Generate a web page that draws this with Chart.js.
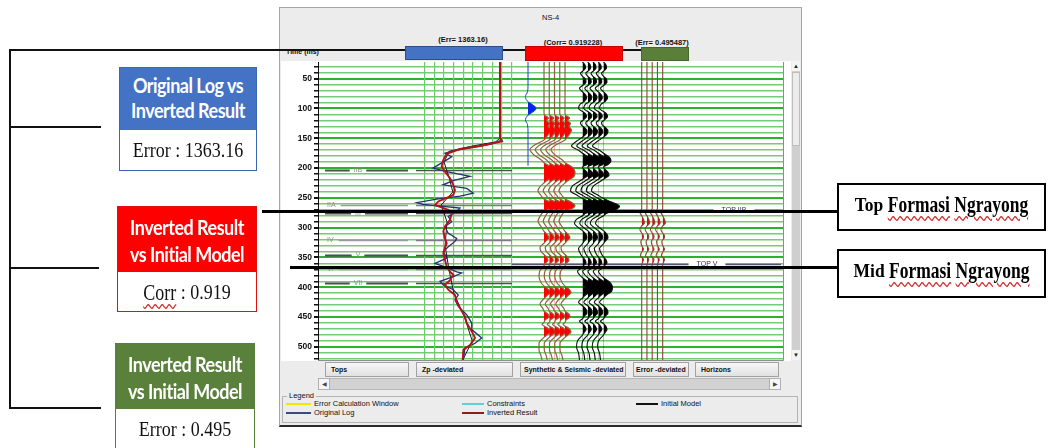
<!DOCTYPE html>
<html>
<head>
<meta charset="utf-8">
<title>NS-4 inversion QC</title>
<script src="https://cdn.jsdelivr.net/npm/chart.js@4.4.1/dist/chart.umd.min.js"></script>
<style>
  html, body { margin:0; padding:0; width:1048px; height:448px; overflow:hidden; background:#fff; }
  body { position:relative; font-family:"Liberation Sans", Arial, sans-serif; }
  .a { position:absolute; box-sizing:border-box; }
  #win { left:279px; top:7px; width:523px; height:420px; background:#ececec; border:1px solid #a6a6a6; border-bottom:2px solid #2b2b2b; }
  #panel { left:281px; top:61px; width:510px; height:300px; background:#fff; }
  .ui { font-size:7.5px; color:#111; white-space:nowrap; line-height:9px; }
  .hdr { font-weight:bold; text-align:center; width:110px; }
  .btn { top:362px; height:15px; border:1px solid #a2a2a2; background:linear-gradient(#f7f7f7,#e1e1e1); font-weight:bold; font-size:7px; line-height:13px; padding-left:5px; white-space:nowrap; color:#111; }
  .lg { height:2px; }
  #chart { position:absolute; left:0; top:0; z-index:1; }
  .ov { z-index:2; }
  .k { background:#111; }
  .lbox { border:1.5px solid; background:#fff; }
  .lhead { color:#fff; font-family:Lato, "Open Sans", sans-serif; font-weight:700; font-size:18px; letter-spacing:-0.5px; text-align:center; box-sizing:border-box; }
  .lhead span, .lbody span, .rbox span { display:inline-block; transform:scaleY(1.13); }
  .lbody { font-family:"Liberation Serif", "Times New Roman", serif; font-size:18px; text-align:center; line-height:40px; color:#111; }
  .rbox { border:2px solid #000; background:#fff; font-family:"Liberation Serif", "Times New Roman", serif; font-weight:bold; font-size:17.5px; text-align:center; line-height:38px; color:#000; white-space:nowrap; }
  .wavy { text-decoration:underline wavy #d52a2a; text-decoration-thickness:1px; text-underline-offset:3px; }
</style>
</head>
<body>

<!-- software window chrome -->
<div class="a" id="win"></div>
<div class="a" id="panel"></div>
<div class="a ui" style="left:542px;top:13px;">NS-4</div>
<div class="a ui" style="left:286px;top:47px;font-weight:bold;font-size:7px;">Time (ms)</div>
<div class="a ui hdr" style="left:408px;top:35px;">(Err= 1363.16)</div>
<div class="a ui hdr" style="left:518px;top:38px;">(Corr= 0.919228)</div>
<div class="a ui hdr" style="left:607px;top:38px;">(Err= 0.495487)</div>

<div class="a btn" style="left:325px;width:84px;">Tops</div>
<div class="a btn" style="left:416px;width:97px;">Zp -deviated</div>
<div class="a btn" style="left:520px;width:106px;padding-left:3px;">Synthetic &amp; Seismic -deviated</div>
<div class="a btn" style="left:633px;width:56px;padding-left:2px;">Error -deviated</div>
<div class="a btn" style="left:695px;width:84px;">Horizons</div>

<!-- horizontal scrollbar -->
<div class="a" style="left:318px;top:378px;width:463px;height:12px;background:#d2d2d2;border:1px solid #b8b8b8;"></div>
<div class="a" style="left:318px;top:378px;width:12px;height:12px;background:#f6f6f6;border:1px solid #b0b0b0;font-size:6px;line-height:10px;text-align:center;color:#444;">&#9664;</div>
<div class="a" style="left:769px;top:378px;width:12px;height:12px;background:#f6f6f6;border:1px solid #b0b0b0;font-size:6px;line-height:10px;text-align:center;color:#444;">&#9654;</div>

<!-- vertical scrollbar -->
<div class="a" style="left:792px;top:62px;width:8px;height:298px;background:#cfcfcf;"></div>
<div class="a" style="left:792px;top:72px;width:8px;height:74px;background:#ececec;border:1px solid #bdbdbd;"></div>
<div class="a" style="left:792px;top:61px;width:8px;height:10px;font-size:6px;line-height:10px;text-align:center;color:#222;background:#f4f4f4;">&#9650;</div>
<div class="a" style="left:792px;top:350px;width:8px;height:10px;font-size:6px;line-height:10px;text-align:center;color:#222;background:#f4f4f4;">&#9660;</div>

<!-- legend group -->
<div class="a" style="left:282px;top:396px;width:516px;height:27px;border:1px solid #b4b4b4;"></div>
<div class="a ui" style="left:287px;top:391px;background:#ececec;padding:0 2px;">Legend</div>
<div class="a lg" style="left:286px;top:403px;width:25px;background:#f3e600;"></div>
<div class="a ui" style="left:314px;top:399px;">Error Calculation Window</div>
<div class="a lg" style="left:286px;top:412px;width:25px;background:#3b4a86;"></div>
<div class="a ui" style="left:314px;top:408px;">Original Log</div>
<div class="a lg" style="left:462px;top:403px;width:22px;background:#5ed2d2;"></div>
<div class="a ui" style="left:487px;top:399px;">Constraints</div>
<div class="a lg" style="left:462px;top:412px;width:22px;background:#8a1f1f;"></div>
<div class="a ui" style="left:487px;top:408px;">Inverted Result</div>
<div class="a lg" style="left:636px;top:403px;width:22px;background:#111;"></div>
<div class="a ui" style="left:661px;top:399px;">Initial Model</div>

<canvas id="chart" width="1048" height="448"></canvas>

<!-- bracket and connector lines -->
<div class="a ov k" style="left:9px;top:49px;width:2px;height:360px;"></div>
<div class="a ov k" style="left:9px;top:49px;width:632px;height:2px;"></div>
<div class="a ov k" style="left:9px;top:126px;width:92px;height:2px;"></div>
<div class="a ov k" style="left:9px;top:267px;width:90px;height:2px;"></div>
<div class="a ov k" style="left:9px;top:407px;width:92px;height:2px;"></div>

<!-- coloured track header markers -->
<div class="a ov" style="left:405px;top:46px;width:98px;height:14px;background:#4472c4;border:1px solid #2c4f8c;"></div>
<div class="a ov" style="left:525px;top:46px;width:98px;height:15px;background:#ff0000;border:1px solid #c40000;"></div>
<div class="a ov" style="left:641px;top:47px;width:48px;height:14px;background:#5a7f3b;border:1px solid #46672c;"></div>

<!-- statistic boxes -->
<div class="a ov lbox" style="left:119px;top:67px;width:138px;height:104px;border-color:#3c66b2;">
  <div class="lhead" style="height:62px;background:#4472c4;padding-top:5px;line-height:25px;"><span>Original Log vs</span><br><span>Inverted Result</span></div>
  <div class="lbody"><span>Error : 1363.16</span></div>
</div>
<div class="a ov lbox" style="left:117px;top:206px;width:140px;height:106px;border-color:#e01010;">
  <div class="lhead" style="height:65px;background:#ff0000;padding-top:7px;line-height:26.5px;"><span>Inverted Result</span><br><span>vs Initial Model</span></div>
  <div class="lbody"><span><span class="wavy">Corr</span> : 0.919</span></div>
</div>
<div class="a ov lbox" style="left:115px;top:343px;width:140px;height:112px;border-color:#58803a;">
  <div class="lhead" style="height:65px;background:#5a813b;padding-top:7px;line-height:26.5px;"><span>Inverted Result</span><br><span>vs Initial Model</span></div>
  <div class="lbody"><span>Error : 0.495</span></div>
</div>

<!-- formation boxes -->
<div class="a ov rbox" id="fm0" style="left:837px;top:183px;width:209px;height:48px;"></div>
<div class="a ov rbox" id="fm1" style="left:837px;top:249px;width:209px;height:49px;"></div>

<script>
// ---------- data ----------
// two-way time tick labels (ms)
const timeTickLabels = [50, 100, 150, 200, 250, 300, 350, 400, 450, 500];

// P-impedance, inverted result
const zpInvTime  = [22,150,155,163,168,176,186,197,206,217,228,237,245,250,256,262,265,270,276,287,298,306,318,326,334,343,354,365,374,379,388,396,404,413,424,435,449,460,474,485,497,505,522];
const zpInvValue = [12760,12760,12970,10700,8640,7270,6920,6750,7090,7610,7950,8120,7950,7270,6400,6060,6580,7430,7780,7610,7090,6920,7090,7270,7090,6920,7090,7270,7610,7950,7610,7090,7430,8120,8300,8640,9150,9330,9850,10190,9670,8980,8920];

// P-impedance, original well log
const zpLogTime  = [148,153,160,166,171,175,181,185,193,200,206,214,221,228,234,242,247,252,258,261,267,273,281,290,298,309,318,323,332,340,351,360,365,374,376,382,390,396,404,413,421,432,446,460,471,485,494,502,522];
const zpLogValue = [12760,12970,11730,9670,7920,7090,7780,7400,6580,5860,7270,9670,7920,6890,9330,10010,8640,6240,4180,4820,8640,8300,7430,7780,7090,7400,8300,8120,7430,6920,7270,6060,6920,8300,8810,7950,6580,6920,7950,8460,8120,8460,9330,9850,9850,10880,10190,9150,8980];

// P-impedance, initial (low-frequency) model
const zpModelTime  = [22,150,156,164,172,190,215,240,262,290,330,370,410,450,490,522];
const zpModelValue = [12760,12760,12300,9600,7500,7000,7500,7900,6700,7300,7100,7500,8000,9100,9900,8920];

// extracted wavelet (normalised amplitude)
const waveTime = [22,62,72,80,87,91,96,100,104,109,113,119,127,140,196];
const waveAmp  = [0,0,-0.05,-0.25,-0.1,0.2,0.65,0.8,0.65,0.2,-0.1,-0.25,-0.05,0,0];

// synthetic trace (normalised amplitude)
const synTime = [22,108,112,116,120,125,130,136,142,149,153,160,169,178,186,191,198,206,214,221,225,231,238,246,252,257,263,268,273,281,289,298,306,311,317,322,326,333,340,345,350,355,360,364,372,382,392,398,403,409,414,419,428,436,440,445,450,455,459,462,465,469,475,480,484,494,505,515,522];
const synAmp  = [0,0,0.1,0.45,0.25,0.55,0.4,0.65,0.5,0.2,0,-0.8,-1.4,-1.0,-0.3,0,0.7,1.0,0.9,0.3,0,-0.4,-0.6,-0.3,0,0.6,1.0,0.7,0,-0.4,-0.6,-0.3,0,0.3,0.5,0.2,0,-0.4,-0.3,0,0.3,0.4,0.1,0,-0.4,-0.5,-0.3,0,0.4,0.6,0.3,0,-0.4,-0.1,0,0.4,0.5,0.1,0,-0.2,0,0.4,0.6,0.3,0,-0.5,-0.5,-0.3,-0.2];

// seismic trace at the well (normalised amplitude)
const seisTime = [22,27,32,37,41,46,51,56,61,66,72,78,83,89,93,100,105,110,114,119,124,128,132,138,144,148,155,163,170,175,182,188,194,198,202,207,212,217,222,230,238,246,251,257,264,270,276,280,286,293,300,305,311,317,323,327,335,344,349,354,359,364,367,373,379,384,391,399,407,413,418,425,431,437,443,449,453,457,461,466,471,476,480,490,500,510,522];
const seisAmp  = [0,0.25,0.3,0.05,-0.2,0,0.3,0.35,0.05,-0.3,0,0.35,0.4,0.1,-0.25,-0.4,0,0.35,0.4,0.1,-0.2,-0.1,0.2,0.45,0.3,0,-0.6,-1.1,-0.4,0,0.6,0.75,0.45,0,0.15,0.45,0.55,0.15,-0.3,-1.0,-1.2,-0.5,0,0.8,1.6,1.2,0.3,0,-0.6,-0.8,-0.4,0,0.35,0.45,0.15,0,-0.4,-0.2,0,0.25,0.35,0.1,0,-0.5,-0.3,0,0.6,0.9,0.8,0.3,0,-0.4,0,0.35,0.45,0.15,0,-0.3,0,0.25,0.35,0.15,0,-0.5,-0.6,-0.4,-0.3];

// synthetic minus seismic inside the error window
const errTime = [22,268,274,280,286,292,297,303,309,314,318,323,330,336,341,347,353,358,362,522];
const errAmp  = [0,0,-0.2,0,0.2,0.3,0,-0.2,0,0.2,0.15,-0.1,0,0.2,0,-0.15,0.2,0.1,0,0];

// well tops (ms)
const topNames = ['IIB', 'IIA', 'III', 'IV', 'V', 'VI', 'VII'];
const topTimes = [204, 262, 275, 320, 346, 370, 393];

// picked seismic horizons (ms)
const horizonNames = ['TOP IIB', 'TOP V'];
const horizonTimes = [271, 361];

// interpreted formation markers (ms)
const formationNames = ['Top Formasi Ngrayong', 'Mid Formasi Ngrayong'];
const formationTimes = [272, 366];

// ---------- layout (page columns) ----------
const AREA = { left: 318, right: 783, top: 62, bottom: 360 };
const TIME_RANGE = { min: 22, max: 522, minorStep: 10, majorStep: 50 };
const TOPS_TRACK = { lo: 325, hi: 408, centre: 358, left: 327 };
const ZP_TRACK = { lo: 4000, hi: 14000, step: 1000, major: [4000, 9000, 14000], pxLo: 415, pxHi: 512 };
const HZ_TRACK = { lo: 512, hi: 781, labelCentre: [734, 707] };
const WAVELET_BASE = 528;
const SYN_BASE = 544, SEIS_BASE = 582.5, ERR_BASE = 641.7, TRACE_GAP = 5.25, TRACE_COUNT = 5;
const GAIN = 10;          // display gain: columns per unit amplitude
const ERR_GAIN = 9;
const FORMATION_LINE = { starts: [262, 290], end: 837 };

// Zp scale limits so that the Zp range fills its own track
const zpPerCol = (ZP_TRACK.hi - ZP_TRACK.lo) / (ZP_TRACK.pxHi - ZP_TRACK.pxLo);
const zpMin = ZP_TRACK.lo - (ZP_TRACK.pxLo - AREA.left) * zpPerCol;
const zpMax = ZP_TRACK.hi + (AREA.right - ZP_TRACK.pxHi) * zpPerCol;

// formation box captions
formationNames.forEach((n, i) => {
  const words = n.split(' ');
  document.getElementById('fm' + i).innerHTML =
    '<span>' + words[0] + ' ' + words.slice(1).map(w => '<span class="wavy">' + w + '</span>').join(' ') + '</span>';
});

// ---------- datasets ----------
const series = (times, values) => times.map((t, i) => ({ x: values[i], y: t }));
const wiggle = (times, amps, base, gain) => times.map((t, i) => ({ x: base + amps[i] * gain, y: t }));

const datasets = [];
datasets.push({ label: 'Initial Model', xAxisID: 'zp', yAxisID: 'y', data: series(zpModelTime, zpModelValue), borderColor: '#1a1a1a', borderWidth: 1 });
datasets.push({ label: 'Original Log', xAxisID: 'zp', yAxisID: 'y', data: series(zpLogTime, zpLogValue), borderColor: '#27306e', borderWidth: 1.3 });
datasets.push({ label: 'Inverted Result', xAxisID: 'zp', yAxisID: 'y', data: series(zpInvTime, zpInvValue), borderColor: '#b5121b', borderWidth: 1.9 });

datasets.push({ label: 'Wavelet', xAxisID: 'panel', yAxisID: 'y', data: wiggle(waveTime, waveAmp, WAVELET_BASE, GAIN),
  borderColor: '#1d3fcf', borderWidth: 1, cubicInterpolationMode: 'monotone', lobe: { base: WAVELET_BASE, color: '#0a24ee' } });

for (let k = 0; k < TRACE_COUNT; k++) {
  const b = SYN_BASE + k * TRACE_GAP;
  datasets.push({ label: 'Synthetic', xAxisID: 'panel', yAxisID: 'y', data: wiggle(synTime, synAmp, b, GAIN),
    borderColor: '#93603f', borderWidth: 1.2, cubicInterpolationMode: 'monotone', lobe: { base: b, color: '#ff0000' } });
}
for (let k = 0; k < TRACE_COUNT; k++) {
  const b = SEIS_BASE + k * TRACE_GAP;
  datasets.push({ label: 'Seismic', xAxisID: 'panel', yAxisID: 'y', data: wiggle(seisTime, seisAmp, b, GAIN),
    borderColor: '#0d0d0d', borderWidth: 1.1, cubicInterpolationMode: 'monotone', lobe: { base: b, color: '#000000' } });
}
for (let k = 0; k < TRACE_COUNT; k++) {
  const b = ERR_BASE + k * TRACE_GAP;
  datasets.push({ label: 'Error', xAxisID: 'panel', yAxisID: 'y', data: wiggle(errTime, errAmp, b, ERR_GAIN),
    borderColor: '#8d4533', borderWidth: 1.1, cubicInterpolationMode: 'monotone', lobe: { base: b, color: '#d01010' } });
}
// later datasets are painted over earlier ones
datasets.forEach((d, i) => { d.order = -i; });

// ---------- plugins ----------
// fills the positive half of each wiggle trace, following the drawn curve
const lobeFill = {
  id: 'lobeFill',
  beforeDatasetDraw(chart, args) {
    const ds = chart.data.datasets[args.index];
    if (!ds.lobe) return;
    const line = args.meta.dataset;
    const pts = line.points;
    if (!pts || !pts.length) return;
    const ctx = chart.ctx, area = chart.chartArea;
    const bx = chart.scales.panel.getPixelForValue(ds.lobe.base);
    line.updateControlPoints(area, 'y');
    ctx.save();
    ctx.beginPath();
    ctx.rect(bx, area.top, area.right - bx, area.bottom - area.top);
    ctx.clip();
    ctx.beginPath();
    line.path(ctx);
    ctx.lineTo(bx, pts[pts.length - 1].y);
    ctx.lineTo(bx, pts[0].y);
    ctx.closePath();
    ctx.fillStyle = ds.lobe.color;
    ctx.fill();
    ctx.restore();
  }
};

// well tops, seismic horizons and chart frame
const markers = {
  id: 'markers',
  beforeDatasetsDraw(chart) {
    const ctx = chart.ctx, ys = chart.scales.y, px = chart.scales.panel;
    ctx.save();
    ctx.font = '7px "Liberation Sans", Arial, sans-serif';
    ctx.textBaseline = 'middle';
    topNames.forEach((name, i) => {
      const y = Math.round(ys.getPixelForValue(topTimes[i])) + 0.5;
      const strong = i % 2 === 0;
      const w = ctx.measureText(name).width;
      ctx.strokeStyle = strong ? '#4e4e4e' : '#9b9b9b';
      ctx.lineWidth = strong ? 2 : 1.5;
      ctx.beginPath();
      if (strong) {
        const c = px.getPixelForValue(TOPS_TRACK.centre);
        ctx.moveTo(px.getPixelForValue(TOPS_TRACK.lo), y); ctx.lineTo(c - w / 2 - 4, y);
        ctx.moveTo(c + w / 2 + 4, y); ctx.lineTo(px.getPixelForValue(TOPS_TRACK.hi), y);
      } else {
        const l = px.getPixelForValue(TOPS_TRACK.left);
        ctx.moveTo(l + w + 5, y); ctx.lineTo(px.getPixelForValue(TOPS_TRACK.hi), y);
      }
      ctx.stroke();
      ctx.fillStyle = '#8c8c8c';
      ctx.textAlign = strong ? 'center' : 'left';
      ctx.fillText(name, strong ? px.getPixelForValue(TOPS_TRACK.centre) : px.getPixelForValue(TOPS_TRACK.left), y);
      // continuation across the impedance track
      ctx.strokeStyle = strong ? '#505050' : '#7d7d7d';
      ctx.lineWidth = 1.5;
      ctx.beginPath();
      ctx.moveTo(px.getPixelForValue(ZP_TRACK.pxLo + 1), y);
      ctx.lineTo(px.getPixelForValue(ZP_TRACK.pxHi), y);
      ctx.stroke();
    });
    horizonNames.forEach((name, i) => {
      const y = Math.round(ys.getPixelForValue(horizonTimes[i])) + 0.5;
      ctx.strokeStyle = '#55586a';
      ctx.lineWidth = 1.5;
      ctx.beginPath();
      ctx.moveTo(px.getPixelForValue(HZ_TRACK.lo), y);
      ctx.lineTo(px.getPixelForValue(HZ_TRACK.hi), y);
      ctx.stroke();
      const c = px.getPixelForValue(HZ_TRACK.labelCentre[i]);
      const w = ctx.measureText(name).width;
      ctx.fillStyle = '#ffffff';
      ctx.fillRect(c - w / 2 - 8, y - 4, w + 16, 8);
      ctx.fillStyle = '#2b2f7a';
      ctx.textAlign = 'center';
      ctx.fillText(name, c, y);
    });
    ctx.restore();
  },
  afterDatasetsDraw(chart) {
    const ctx = chart.ctx, a = chart.chartArea;
    ctx.save();
    ctx.strokeStyle = '#8e8e8e';
    ctx.lineWidth = 1;
    ctx.beginPath();
    ctx.moveTo(a.left, Math.round(a.bottom) + 0.5);
    ctx.lineTo(Math.round(a.right) + 0.5, Math.round(a.bottom) + 0.5);
    ctx.lineTo(Math.round(a.right) + 0.5, a.top);
    ctx.stroke();
    ctx.restore();
  },
  afterDraw(chart) {
    const ctx = chart.ctx, ys = chart.scales.y, px = chart.scales.panel;
    ctx.save();
    ctx.strokeStyle = '#000';
    ctx.lineWidth = 3;
    formationTimes.forEach((t, i) => {
      const y = Math.round(ys.getPixelForValue(t)) + 0.5;
      ctx.beginPath();
      ctx.moveTo(px.getPixelForValue(FORMATION_LINE.starts[i]), y);
      ctx.lineTo(px.getPixelForValue(FORMATION_LINE.end), y);
      ctx.stroke();
    });
    ctx.restore();
  }
};

// ---------- chart ----------
const isMajorTime = c => c.tick && c.tick.value % TIME_RANGE.majorStep === 0;

new Chart(document.getElementById('chart'), {
  type: 'line',
  data: { datasets },
  options: {
    indexAxis: 'y',
    responsive: false,
    animation: false,
    devicePixelRatio: 1,
    events: [],
    layout: { padding: { left: AREA.left - 38, top: AREA.top, right: 1048 - AREA.right, bottom: 448 - AREA.bottom } },
    elements: { point: { radius: 0 }, line: { fill: false, tension: 0 } },
    plugins: { legend: { display: false }, tooltip: { enabled: false } },
    scales: {
      y: {
        type: 'linear', position: 'left', reverse: true, min: TIME_RANGE.min, max: TIME_RANGE.max,
        afterFit: s => { s.width = 38; },
        // minor ruler every 10 ms, labelled every 50 ms
        afterBuildTicks: s => {
          const ticks = [];
          const first = Math.ceil(TIME_RANGE.min / TIME_RANGE.minorStep) * TIME_RANGE.minorStep;
          for (let v = first; v <= TIME_RANGE.max; v += TIME_RANGE.minorStep) ticks.push({ value: v });
          s.ticks = ticks;
        },
        ticks: {
          autoSkip: false, padding: 2, color: '#111',
          font: { family: '"Liberation Sans", Arial, sans-serif', size: 8.5, weight: 'bold' },
          callback: v => timeTickLabels.includes(v) ? String(v) : ''
        },
        grid: {
          color: c => isMajorTime(c) ? '#2cb22c' : '#74cc74',
          lineWidth: c => isMajorTime(c) ? 2 : 1.5,
          tickLength: 4, tickColor: '#111'
        },
        border: { display: true, color: '#111', width: 1 }
      },
      zp: {
        type: 'linear', axis: 'x', position: 'bottom', min: zpMin, max: zpMax,
        afterFit: s => { s.height = 0; },
        afterBuildTicks: s => { s.ticks = s.ticks.filter(t => t.value >= ZP_TRACK.lo - 1 && t.value <= ZP_TRACK.hi + 1); },
        ticks: { display: false, stepSize: ZP_TRACK.step, includeBounds: false },
        grid: {
          drawTicks: false,
          color: c => ZP_TRACK.major.includes(Math.round(c.tick.value)) ? '#1cc41c' : '#6fca6f',
          lineWidth: c => ZP_TRACK.major.includes(Math.round(c.tick.value)) ? 1.8 : 1.2
        },
        border: { display: false }
      },
      panel: { type: 'linear', axis: 'x', position: 'bottom', display: false, min: AREA.left, max: AREA.right }
    }
  },
  plugins: [lobeFill, markers]
});
</script>
</body>
</html>
